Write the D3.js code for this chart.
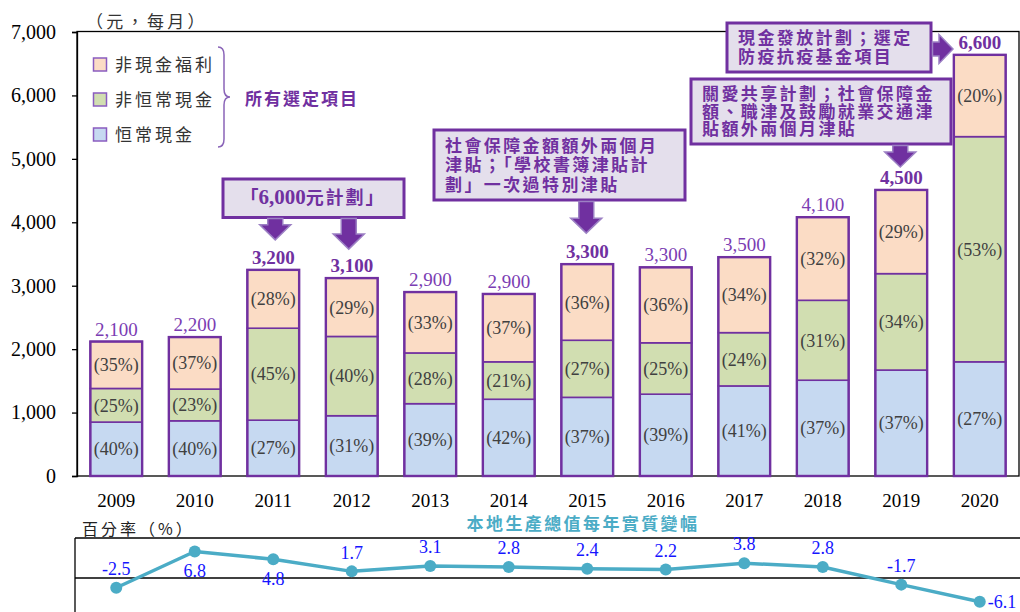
<!DOCTYPE html>
<html><head><meta charset="utf-8">
<script src="https://cdn.jsdelivr.net/npm/d3@7"></script>
<style>
html,body{margin:0;padding:0;background:#fff;}
svg{display:block;}
.cjk{font-family:"Noto Sans CJK TC","Noto Sans CJK SC",sans-serif;}
.num{font-family:"Liberation Serif","Times New Roman",serif;}
</style></head>
<body>
<svg id="chart" width="1020" height="612"></svg>
<script>
// ---------- DATA ----------
const years = ["2009","2010","2011","2012","2013","2014","2015","2016","2017","2018","2019","2020"];
const recurrentCash    = [850, 870, 880, 950, 1140, 1210, 1240, 1290, 1420, 1510, 1670, 1800];
const nonRecurrentCash = [530, 500, 1450, 1250, 800, 590, 900, 810, 840, 1260, 1520, 3550];
const nonCashBenefit   = [740, 820, 920, 920, 960, 1070, 1200, 1190, 1190, 1310, 1320, 1290];
const totalLabels = ["2,100","2,200","3,200","3,100","2,900","2,900","3,300","3,300","3,500","4,100","4,500","6,600"];
const totalBold   = [false,false,true,true,false,false,true,false,false,false,true,true];
const pctRecurrent    = ["(40%)","(40%)","(27%)","(31%)","(39%)","(42%)","(37%)","(39%)","(41%)","(37%)","(37%)","(27%)"];
const pctNonRecurrent = ["(25%)","(23%)","(45%)","(40%)","(28%)","(21%)","(27%)","(25%)","(24%)","(31%)","(34%)","(53%)"];
const pctNonCash      = ["(35%)","(37%)","(28%)","(29%)","(33%)","(37%)","(36%)","(36%)","(34%)","(32%)","(29%)","(20%)"];
const seriesNames = ["恒常現金","非恒常現金","非現金福利"];
const yTicks = [0,1000,2000,3000,4000,5000,6000,7000];
const gdpGrowth = [-2.5, 6.8, 4.8, 1.7, 3.1, 2.8, 2.4, 2.2, 3.8, 2.8, -1.7, -6.1];
const gdpLabelPos = ["above","below","below","above","above","above","above","above","above","above","above","right"];
const annotations = [
  {lines:["「6,000元計劃」"], years:["2011","2012"]},
  {lines:["社會保障金額額外兩個月","津貼；「學校書簿津貼計","劃」一次過特別津貼"], years:["2015"]},
  {lines:["關愛共享計劃；社會保障金","額、職津及鼓勵就業交通津","貼額外兩個月津貼"], years:["2019"]},
  {lines:["現金發放計劃；選定","防疫抗疫基金項目"], years:["2020"]}
];

// ---------- STYLE / LAYOUT ----------
const colors = ["#c6d9f1","#d1deb1","#fbdcc5"];
const purple = "#7030a0";
const svg = d3.select("#chart");
const L = 77, R = 1019, T = 31.5, B = 476;

const x = d3.scaleBand().domain(years).range([L, R]).paddingInner(0.34).paddingOuter(0.17);
const y = d3.scaleLinear().domain([0, 7000]).range([B, 32]);

// frame
svg.append("rect").attr("x", L).attr("y", T).attr("width", R - L).attr("height", B - T)
  .attr("fill", "none").attr("stroke", "#000").attr("stroke-width", 1.3);

// y axis
const yAxis = svg.append("g").attr("transform", `translate(${L},0)`)
  .call(d3.axisLeft(y).tickValues(yTicks).tickFormat(d3.format(",")).tickSize(5).tickPadding(16));
yAxis.select(".domain").attr("stroke", "#000").attr("stroke-width", 1.3);
yAxis.selectAll(".tick line").attr("stroke", "#000").attr("stroke-width", 1.3);
yAxis.selectAll(".tick text").attr("class", "num").attr("font-size", 20).attr("fill", "#000");

// x labels
svg.append("g").selectAll("text").data(years).join("text")
  .attr("class", "num").attr("x", d => x(d) + x.bandwidth() / 2).attr("y", 507)
  .attr("text-anchor", "middle").attr("font-size", 19).attr("fill", "#000").text(d => d);

// unit label
svg.append("text").attr("class", "cjk").attr("x", 86).attr("y", 28)
  .attr("font-size", 17).attr("letter-spacing", 3.3).attr("fill", "#333").text("（元，每月）");

// stacked bars
const rows = years.map((yr, i) => ({year: yr, vals: [recurrentCash[i], nonRecurrentCash[i], nonCashBenefit[i]],
  pcts: [pctRecurrent[i], pctNonRecurrent[i], pctNonCash[i]]}));
const bars = svg.append("g");
rows.forEach((r, i) => {
  let base = 0;
  r.vals.forEach((v, k) => {
    const y0 = y(base), y1 = y(base + v);
    bars.append("rect").attr("x", x(r.year)).attr("y", y1).attr("width", x.bandwidth()).attr("height", y0 - y1)
      .attr("fill", colors[k]).attr("stroke", purple).attr("stroke-width", 1.6);
    bars.append("text").attr("class", "num").attr("x", x(r.year) + x.bandwidth() / 2).attr("y", (y0 + y1) / 2)
      .attr("dy", "0.35em").attr("text-anchor", "middle").attr("font-size", 18).attr("fill", "#404040").text(r.pcts[k]);
    base += v;
  });
  bars.append("rect").attr("x", x(r.year)).attr("y", y(base)).attr("width", x.bandwidth()).attr("height", y(0) - y(base))
    .attr("fill", "none").attr("stroke", purple).attr("stroke-width", 2.4);
  bars.append("text").attr("class", "num").attr("x", x(r.year) + x.bandwidth() / 2).attr("y", y(base) - 6)
    .attr("text-anchor", "middle").attr("font-size", 19)
    .attr("font-weight", totalBold[i] ? "bold" : "normal")
    .attr("fill", totalBold[i] ? purple : "#7b3db3").text(totalLabels[i]);
});

// legend
const legend = svg.append("g");
[2, 1, 0].forEach((k, j) => {
  const ly = 64.5 + j * 35;
  legend.append("rect").attr("x", 93.5).attr("y", ly - 6.5).attr("width", 13).attr("height", 13)
    .attr("fill", colors[k]).attr("stroke", "#8a5cc0").attr("stroke-width", 1.5);
  legend.append("text").attr("class", "cjk").attr("x", 115).attr("y", ly).attr("dy", "0.36em")
    .attr("font-size", 17).attr("letter-spacing", 3).attr("fill", "#333").text(seriesNames[k]);
});
legend.append("path").attr("d", "M218,47 Q224,47 224,55 L224,89 Q224,97 230,97 Q224,97 224,105 L224,139 Q224,147 218,147")
  .attr("fill", "none").attr("stroke", "#8a64b8").attr("stroke-width", 1.5);
legend.append("text").attr("class", "cjk").attr("x", 245).attr("y", 99).attr("dy", "0.36em")
  .attr("font-size", 17).attr("font-weight", "bold").attr("letter-spacing", 2).attr("fill", purple).text("所有選定項目");

// annotations
const ann = svg.append("g");
function box(x0, y0, x1, y1, lines, lh) {
  ann.append("rect").attr("x", x0).attr("y", y0).attr("width", x1 - x0).attr("height", y1 - y0)
    .attr("fill", "#e4dfec").attr("stroke", purple).attr("stroke-width", 3);
  const n = lines.length;
  const cy = (y0 + y1) / 2;
  const t = ann.append("text").attr("class", "cjk")
    .attr("font-size", 17).attr("font-weight", "bold").attr("letter-spacing", 2.4).attr("fill", purple);
  lines.forEach((ln, i) => {
    t.append("tspan").attr("x", x0 + 11).attr("y", cy + (i - (n - 1) / 2) * lh + 6.1).text(ln);
  });
}
function downArrow(cx, y0, y1) {
  const sw = 7.5, hw = 15.5, hl = 15;
  ann.append("path").attr("d",
    `M${cx - sw},${y0} L${cx + sw},${y0} L${cx + sw},${y1 - hl} L${cx + hw},${y1 - hl} L${cx},${y1} L${cx - hw},${y1 - hl} L${cx - sw},${y1 - hl} Z`)
    .attr("fill", purple).attr("stroke", "#9c80c4").attr("stroke-width", 1.5);
}
function rightArrow(x0, x1, cy) {
  const sh = 7, hh = 14.5, hl = 14;
  ann.append("path").attr("d",
    `M${x0},${cy - sh} L${x1 - hl},${cy - sh} L${x1 - hl},${cy - hh} L${x1},${cy} L${x1 - hl},${cy + hh} L${x1 - hl},${cy + sh} L${x0},${cy + sh} Z`)
    .attr("fill", purple).attr("stroke", "#9c80c4").attr("stroke-width", 1.5);
}
const cxOf = yr => x(yr) + x.bandwidth() / 2;
const totOf = yr => { const i = years.indexOf(yr); return recurrentCash[i] + nonRecurrentCash[i] + nonCashBenefit[i]; };

// 6,000元計劃
ann.append("rect").attr("x", 223).attr("y", 179).attr("width", 181).attr("height", 38.5)
  .attr("fill", "#e4dfec").attr("stroke", purple).attr("stroke-width", 3);
const t1 = ann.append("text").attr("x", 313).attr("y", 198).attr("dy", "0.36em").attr("text-anchor", "middle")
  .attr("font-size", 18).attr("font-weight", "bold").attr("fill", purple);
t1.append("tspan").attr("class", "cjk").text("「");
t1.append("tspan").attr("class", "num").attr("font-size", 21).text("6,000");
t1.append("tspan").attr("class", "cjk").attr("letter-spacing", 2).text("元計劃」");
downArrow(cxOf("2011") + 2, 218.5, y(totOf("2011")) - 30);
downArrow(cxOf("2012") - 3, 218.5, y(totOf("2012")) - 29);

box(434, 130, 685, 200, annotations[1].lines, 19.5);
downArrow(cxOf("2015") - 1, 201.5, y(totOf("2015")) - 31);

box(691, 79, 951, 144, annotations[2].lines, 17.5);
downArrow(cxOf("2019") - 1, 145.5, y(totOf("2019")) - 23);

box(727, 23, 931, 72, annotations[3].lines, 18.5);
rightArrow(932.5, 953, 49);

// ---------- GDP panel ----------
const g = svg.append("g");
const yG = d3.scaleLinear().domain([-10, 10]).range([617, 539]);
g.append("line").attr("x1", 75).attr("x2", 1020).attr("y1", 538).attr("y2", 538).attr("stroke", "#000").attr("stroke-width", 1.3);
g.append("line").attr("x1", 75).attr("x2", 75).attr("y1", 538).attr("y2", 612).attr("stroke", "#000").attr("stroke-width", 1.3);
g.append("line").attr("x1", 75).attr("x2", 1020).attr("y1", yG(0)).attr("y2", yG(0)).attr("stroke", "#000").attr("stroke-width", 1.3);

g.append("text").attr("class", "cjk").attr("x", 82).attr("y", 529).attr("dy", "0.36em")
  .attr("font-size", 16).attr("letter-spacing", 3).attr("fill", "#222").text("百分率（%）");
g.append("text").attr("class", "cjk").attr("x", 583).attr("y", 524).attr("dy", "0.36em").attr("text-anchor", "middle")
  .attr("font-size", 17).attr("font-weight", "bold").attr("letter-spacing", 2.4).attr("fill", "#4bacc6").text("本地生產總值每年實質變幅");

const fmtG = v => d3.format(".1f")(v).replace("\u2212", "-");
const gdp = years.map((yr, i) => ({year: yr, v: gdpGrowth[i], pos: gdpLabelPos[i]}));
g.append("path").datum(gdp)
  .attr("d", d3.line().x(d => cxOf(d.year)).y(d => yG(d.v)))
  .attr("fill", "none").attr("stroke", "#4bacc6").attr("stroke-width", 3.5).attr("stroke-linejoin", "round");
g.selectAll("circle").data(gdp).join("circle")
  .attr("cx", d => cxOf(d.year)).attr("cy", d => yG(d.v)).attr("r", 6).attr("fill", "#4bacc6");
g.selectAll("text.lbl").data(gdp).join("text").attr("class", "lbl num")
  .attr("x", d => cxOf(d.year) + (d.pos === "right" ? 8 : 0))
  .attr("y", d => yG(d.v) + (d.pos === "above" ? -19 : d.pos === "below" ? 19 : 0))
  .attr("dy", "0.35em")
  .attr("text-anchor", d => d.pos === "right" ? "start" : "middle")
  .attr("font-size", 18).attr("fill", "#1515ff").text(d => fmtG(d.v));
</script>
</body></html>
